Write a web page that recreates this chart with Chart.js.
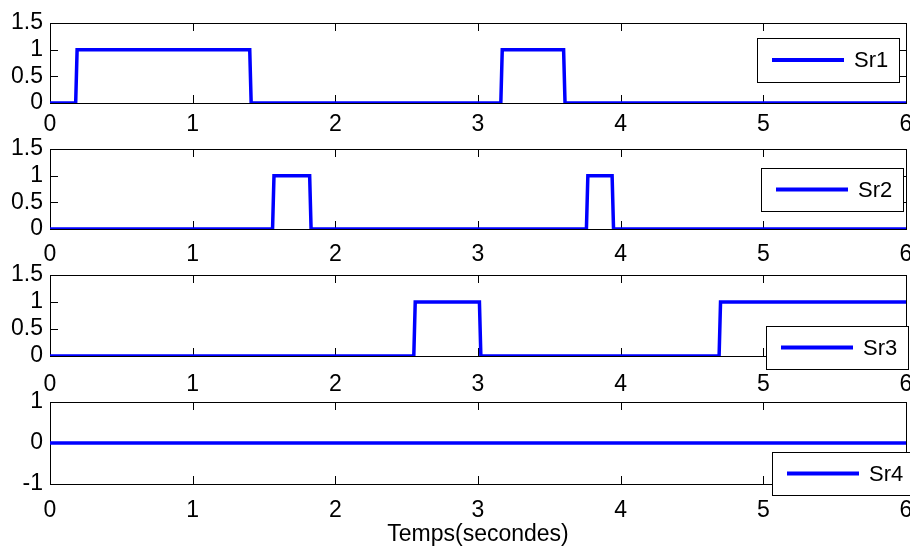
<!DOCTYPE html>
<html>
<head>
<meta charset="utf-8">
<script src="https://cdn.jsdelivr.net/npm/chart.js@4/dist/chart.umd.min.js"></script>
<style>
    body { margin: 0; background: #fff; }
    #wrap { position: relative; width: 910px; height: 548px; overflow: hidden; }
    canvas { position: absolute; left: 0; }
</style>
</head>
<body>
<div id="wrap">
    <canvas id="c1" width="910" height="145" style="top:0px"></canvas>
    <canvas id="c2" width="910" height="145" style="top:126px"></canvas>
    <canvas id="c3" width="910" height="145" style="top:252px"></canvas>
    <canvas id="c4" width="910" height="170" style="top:378px"></canvas>
</div>
<script>
// Données (temps en secondes, états 0/1)
const seriesNames = ['Sr1', 'Sr2', 'Sr3', 'Sr4'];
const xTicks = [0, 1, 2, 3, 4, 5, 6];
const yTicksPulse = [0, 0.5, 1, 1.5];
const yTicksFlat = [-1, 0, 1];
const xLabel = 'Temps(secondes)';

const sr1Time  = [0, 0.18, 0.19, 1.40, 1.41, 3.16, 3.17, 3.60, 3.61, 6];
const sr1Value = [0, 0,    1,    1,    0,    0,    1,    1,    0,    0];

const sr2Time  = [0, 1.56, 1.57, 1.82, 1.83, 3.76, 3.77, 3.94, 3.95, 6];
const sr2Value = [0, 0,    1,    1,    0,    0,    1,    1,    0,    0];

const sr3Time  = [0, 2.55, 2.56, 3.01, 3.02, 4.69, 4.70, 6];
const sr3Value = [0, 0,    1,    1,    0,    0,    1,    1];

const sr4Time  = [0, 6];
const sr4Value = [0, 0];

const BLUE = '#0000ff';
const TICK = 8;
const FONT = '"Liberation Sans", Arial, Helvetica, sans-serif';

Chart.defaults.font.family = FONT;
Chart.defaults.color = '#000';

// Cadre, graduations vers l'intérieur et légende encadrée (style MATLAB)
const matlabAxes = {
    id: 'matlabAxes',
    beforeDatasetsDraw(chart) {
        const { ctx, chartArea: a, scales } = chart;
        ctx.save();
        ctx.strokeStyle = '#000';
        ctx.lineWidth = 1;
        ctx.beginPath();
        scales.x.ticks.forEach(t => {
            const px = Math.round(scales.x.getPixelForValue(t.value)) + 0.5;
            ctx.moveTo(px, a.bottom); ctx.lineTo(px, a.bottom - TICK);
            ctx.moveTo(px, a.top); ctx.lineTo(px, a.top + TICK);
        });
        scales.y.ticks.forEach(t => {
            const py = Math.round(scales.y.getPixelForValue(t.value)) + 0.5;
            ctx.moveTo(a.left, py); ctx.lineTo(a.left + TICK, py);
            ctx.moveTo(a.right, py); ctx.lineTo(a.right - TICK, py);
        });
        ctx.stroke();
        ctx.strokeRect(Math.round(a.left) + 0.5, Math.round(a.top) + 0.5, Math.round(a.width), Math.round(a.height));
        ctx.restore();
    },
    afterDraw(chart, args, opts) {
        const { ctx } = chart;
        const ds = chart.data.datasets[0];
        const { left, top, width, height } = opts;
        ctx.save();
        ctx.fillStyle = '#fff';
        ctx.fillRect(left, top, width, height);
        ctx.strokeStyle = '#000';
        ctx.lineWidth = 1;
        ctx.strokeRect(left + 0.5, top + 0.5, width, height);
        const cy = top + height / 2;
        ctx.strokeStyle = ds.borderColor;
        ctx.lineWidth = 4;
        ctx.beginPath();
        ctx.moveTo(left + 15, cy);
        ctx.lineTo(left + 87, cy);
        ctx.stroke();
        ctx.fillStyle = '#000';
        ctx.font = '22px ' + FONT;
        ctx.textBaseline = 'middle';
        ctx.fillText(ds.label, left + 97, cy + 1);
        ctx.restore();
    }
};

function makeChart(id, name, times, values, yTicks, layout, legendBox, withTitle) {
    const ctx = document.getElementById(id).getContext('2d');
    const canvasH = ctx.canvas.height;
    return new Chart(ctx, {
        type: 'line',
        data: {
            datasets: [{
                label: name,
                data: times.map((t, i) => ({ x: t, y: values[i] })),
                borderColor: BLUE,
                borderWidth: 3.5,
                pointRadius: 0,
                tension: 0,
                fill: false
            }]
        },
        options: {
            responsive: false,
            animation: false,
            devicePixelRatio: 1,
            events: [],
            layout: { padding: { top: layout.padTop, left: 0, right: 4, bottom: 0 } },
            scales: {
                x: {
                    type: 'linear',
                    min: xTicks[0],
                    max: xTicks[xTicks.length - 1],
                    afterBuildTicks: s => { s.ticks = xTicks.map(v => ({ value: v })); },
                    afterFit: s => {
                        s.height = canvasH - layout.padTop - layout.plotH;
                        s.paddingLeft = 0;
                        s.paddingRight = 0;
                    },
                    grid: { display: false, drawTicks: false },
                    border: { display: false },
                    ticks: {
                        autoSkip: false,
                        maxRotation: 0,
                        padding: layout.xPad,
                        font: { size: 23 },
                        color: '#000',
                        callback: v => String(v)
                    },
                    title: {
                        display: withTitle,
                        text: xLabel,
                        color: '#000',
                        font: { size: 23 },
                        padding: 0
                    }
                },
                y: {
                    min: yTicks[0],
                    max: yTicks[yTicks.length - 1],
                    afterBuildTicks: s => { s.ticks = yTicks.map(v => ({ value: v })); },
                    afterFit: s => {
                        s.width = 50;
                        s.paddingTop = 0;
                        s.paddingBottom = 0;
                    },
                    grid: { display: false, drawTicks: false },
                    border: { display: false },
                    ticks: {
                        autoSkip: false,
                        padding: 7,
                        font: { size: 23 },
                        color: '#000',
                        callback: v => String(v)
                    }
                }
            },
            plugins: {
                legend: { display: false },
                tooltip: { enabled: false },
                matlabAxes: legendBox
            }
        },
        plugins: [matlabAxes]
    });
}

makeChart('c1', seriesNames[0], sr1Time, sr1Value, yTicksPulse,
    { padTop: 23, plotH: 80, xPad: 8 }, { left: 757, top: 38, width: 142, height: 44 }, false);
makeChart('c2', seriesNames[1], sr2Time, sr2Value, yTicksPulse,
    { padTop: 23, plotH: 80, xPad: 12 }, { left: 761, top: 42, width: 142, height: 43 }, false);
makeChart('c3', seriesNames[2], sr3Time, sr3Value, yTicksPulse,
    { padTop: 23, plotH: 81, xPad: 15 }, { left: 766, top: 74, width: 142, height: 43 }, false);
makeChart('c4', seriesNames[3], sr4Time, sr4Value, yTicksFlat,
    { padTop: 24, plotH: 82, xPad: 13 }, { left: 772, top: 74, width: 142, height: 43 }, true);
</script>
</body>
</html>
